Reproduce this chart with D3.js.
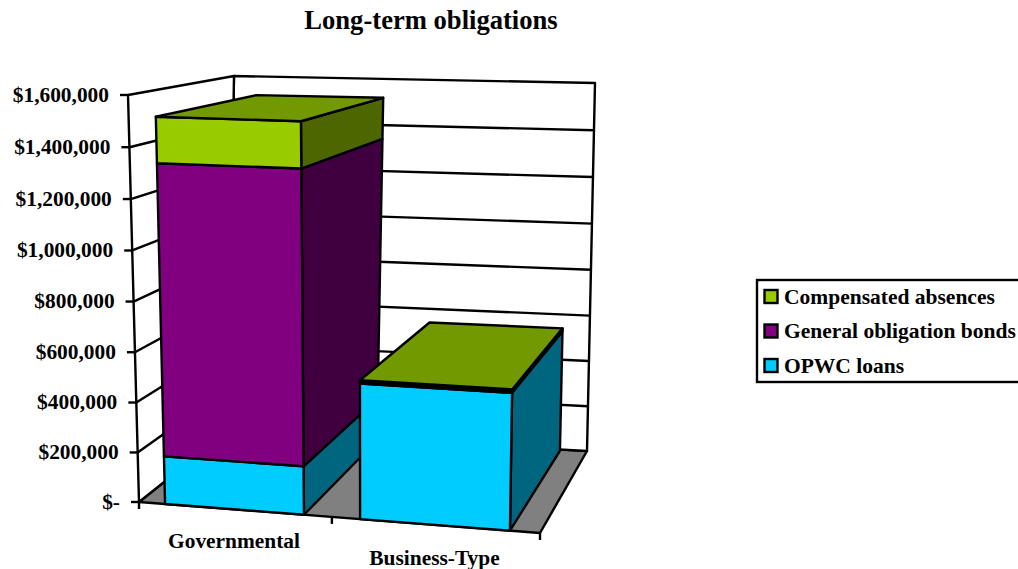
<!DOCTYPE html>
<html>
<head>
<meta charset="utf-8">
<title>Long-term obligations</title>
<script src="https://cdn.jsdelivr.net/npm/d3@7/dist/d3.min.js"></script>
<style>
  html, body { margin: 0; padding: 0; background: #fff; overflow: hidden; }
  text { font-family: "Liberation Serif", "Times New Roman", serif; font-weight: bold; fill: #000; }
</style>
</head>
<body>
<svg id="chart" width="1018" height="569"></svg>
<script>
const chartTitle = "Long-term obligations";
const categories = ["Governmental", "Business-Type"];
const seriesNames = ["OPWC loans", "General obligation bonds", "Compensated absences"];
const opwcLoans = [192000, 530000];
const generalObligationBonds = [1150000, 7000];
const compensatedAbsences = [178000, 6000];
const valueTicks = [0, 200000, 400000, 600000, 800000, 1000000, 1200000, 1400000, 1600000];

const seriesValues = [opwcLoans, generalObligationBonds, compensatedAbsences];

// front, side and top shades for each series
const faceColors = ["#00CCFF", "#800080", "#99CC00"];
const sideColors = ["#006680", "#400040", "#4D6600"];
const topColors = ["#0099BF", "#600060", "#739900"];

const svg = d3.select("#chart");

// Corners of the 3D plot box as seen on the page
const box = {
  frontLeftBottom: [139, 502], frontLeftTop: [128, 95],
  frontRightBottom: [540, 533], frontRightTop: [548, 107],
  backLeftBottom: [228, 431], backLeftTop: [234, 76],
  backRightBottom: [587, 451], backRightTop: [595, 83]
};

const lerp = (a, b, t) => [a[0] + (b[0] - a[0]) * t, a[1] + (b[1] - a[1]) * t];

// Height and width foreshorten slightly with perspective
const valueScale = d3.scaleLinear().domain([0, 1600000]).range([0, 1]);
const heightWarp = t => 0.97 * t + 0.03 * t * t;
const widthWarp = (t, d) => t - (0.076 - 0.026 * d) * t * (1 - t);

const bandScale = d3.scaleBand().domain(categories).range([0, 1]).paddingInner(0.28).paddingOuter(0.14);

// u across the categories, v up the value axis, d from front to back
function project(u, v, d) {
  const h = heightWarp(valueScale(v));
  const uf = widthWarp(u, 0), ub = widthWarp(u, 1);
  const frontBottom = lerp(box.frontLeftBottom, box.frontRightBottom, uf);
  const frontTop = lerp(box.frontLeftTop, box.frontRightTop, uf);
  const backBottom = lerp(box.backLeftBottom, box.backRightBottom, ub);
  const backTop = lerp(box.backLeftTop, box.backRightTop, ub);
  return lerp(lerp(frontBottom, frontTop, h), lerp(backBottom, backTop, h), d);
}

const polygon = d3.line();
const maxValue = valueTicks[valueTicks.length - 1];
const strokeWidth = 2.4;

function face(points, fill) {
  svg.append("path")
    .attr("d", polygon(points) + "Z")
    .attr("fill", fill)
    .attr("stroke", "#000")
    .attr("stroke-width", strokeWidth)
    .attr("stroke-linejoin", "round");
}

function segment(a, b) {
  svg.append("line")
    .attr("x1", a[0]).attr("y1", a[1])
    .attr("x2", b[0]).attr("y2", b[1])
    .attr("stroke", "#000")
    .attr("stroke-width", strokeWidth);
}

// Walls and floor
face([project(0, 0, 0), project(0, 0, 1), project(1, 0, 1), project(1, 0, 0)], "#808080");
face([project(0, 0, 1), project(0, maxValue, 1), project(1, maxValue, 1), project(1, 0, 1)], "#fff");
face([project(0, 0, 0), project(0, maxValue, 0), project(0, maxValue, 1), project(0, 0, 1)], "#fff");

// Gridlines run along the side wall and across the back wall
valueTicks.slice(1, -1).forEach(v => {
  segment(project(0, v, 0), project(0, v, 1));
  segment(project(0, v, 1), project(1, v, 1));
});

// Value axis ticks and labels
const formatValue = v => v === 0 ? "$-" : "$" + d3.format(",")(v);
valueTicks.forEach(v => {
  const p = project(0, v, 0);
  segment([p[0] - 8, p[1]], p);
  svg.append("text")
    .attr("x", p[0] - 19)
    .attr("y", p[1] + 6.5)
    .attr("text-anchor", "end")
    .attr("font-size", 21.4)
    .text(formatValue(v));
});

// Category ticks on the front edge of the floor
[0, 0.5, 1].forEach(u => {
  const p = project(u, 0, 0);
  segment(p, [p[0], p[1] + 7]);
});

// Bars, stacked from the floor up, far category first
const barDepth = [0, 0.985];
categories.forEach((cat, i) => {
  const u0 = bandScale(cat), u1 = u0 + bandScale.bandwidth();
  let base = 0;
  seriesValues.forEach((vals, s) => {
    const top = base + vals[i];
    face([project(u1, base, barDepth[0]), project(u1, top, barDepth[0]),
          project(u1, top, barDepth[1]), project(u1, base, barDepth[1])], sideColors[s]);
    face([project(u0, base, barDepth[0]), project(u0, top, barDepth[0]),
          project(u1, top, barDepth[0]), project(u1, base, barDepth[0])], faceColors[s]);
    if (s === seriesValues.length - 1) {
      face([project(u0, top, barDepth[0]), project(u0, top, barDepth[1]),
            project(u1, top, barDepth[1]), project(u1, top, barDepth[0])], topColors[s]);
    }
    base = top;
  });
});

// Category labels
const categoryLabelAt = [[234, 547.5], [434.5, 564.5]];
categories.forEach((cat, i) => {
  svg.append("text")
    .attr("x", categoryLabelAt[i][0])
    .attr("y", categoryLabelAt[i][1])
    .attr("text-anchor", "middle")
    .attr("font-size", 21.4)
    .text(cat);
});

// Title
svg.append("text")
  .attr("x", 431).attr("y", 29)
  .attr("text-anchor", "middle")
  .attr("font-size", 26.6)
  .text(chartTitle);

// Legend, listed top of stack first
svg.append("rect")
  .attr("x", 757).attr("y", 280)
  .attr("width", 270).attr("height", 102)
  .attr("fill", "#fff").attr("stroke", "#000").attr("stroke-width", strokeWidth);

const legendOrder = [2, 1, 0];
const legendRow = d3.scalePoint().domain(legendOrder).range([297, 366]);
legendOrder.forEach(s => {
  const y = legendRow(s);
  svg.append("rect")
    .attr("x", 764.5).attr("y", y - 7)
    .attr("width", 13).attr("height", 13)
    .attr("fill", faceColors[s]).attr("stroke", "#000").attr("stroke-width", strokeWidth);
  svg.append("text")
    .attr("x", 784).attr("y", y + 6.5)
    .attr("font-size", 21.5)
    .text(seriesNames[s]);
});
</script>
</body>
</html>
